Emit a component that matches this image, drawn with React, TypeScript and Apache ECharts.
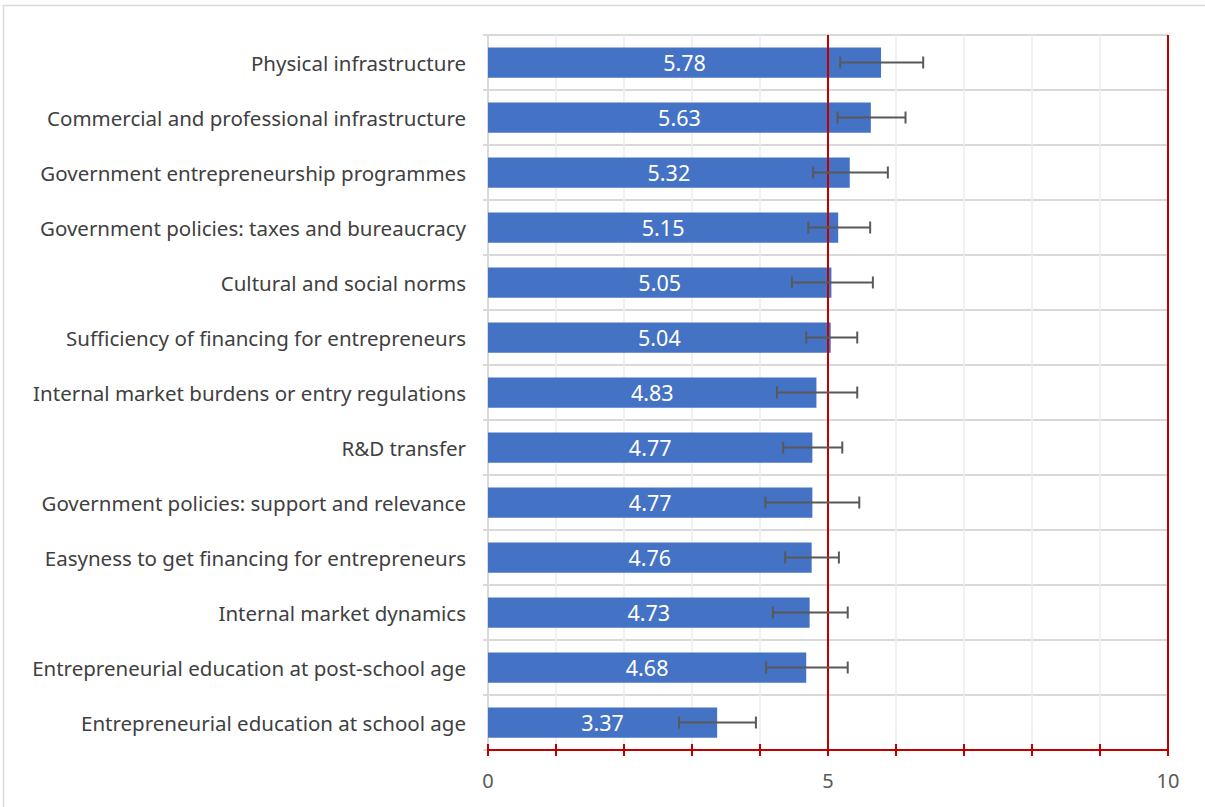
import React, { useEffect, useRef } from "react";
import * as echarts from "echarts";

const categories = [
  "Physical infrastructure",
  "Commercial and professional infrastructure",
  "Government entrepreneurship programmes",
  "Government policies: taxes and bureaucracy",
  "Cultural and social norms",
  "Sufficiency of financing for entrepreneurs",
  "Internal market burdens or entry regulations",
  "R&D transfer",
  "Government policies: support and relevance",
  "Easyness to get financing for entrepreneurs",
  "Internal market dynamics",
  "Entrepreneurial education at post-school age",
  "Entrepreneurial education at school age",
];
const values = [5.78, 5.63, 5.32, 5.15, 5.05, 5.04, 4.83, 4.77, 4.77, 4.76, 4.73, 4.68, 3.37];
const errLow = [5.18, 5.14, 4.78, 4.71, 4.47, 4.68, 4.25, 4.34, 4.08, 4.37, 4.19, 4.09, 2.81];
const errHigh = [6.4, 6.14, 5.88, 5.62, 5.66, 5.43, 5.43, 5.21, 5.46, 5.16, 5.29, 5.29, 3.94];
const axisLabels = [0, 5, 10];

const FONT = "Noto Sans";

export default function App() {
  const ref = useRef<HTMLDivElement>(null);
  useEffect(() => {
    document.body.style.margin = "0";
    const chart = echarts.init(ref.current!, null, { renderer: "svg" });
    const errData = categories.map((_, i) => [i, errLow[i], errHigh[i]]);
    chart.setOption({
      animation: false,
      textStyle: { fontFamily: FONT },
      graphic: [
        {
          type: "rect",
          shape: { x: 3.5, y: 5.5, width: 1210, height: 810 },
          style: { fill: "none", stroke: "#d9d9d9", lineWidth: 1.5 },
          silent: true,
        },
      ],
      grid: { left: 488, right: 37, top: 35, bottom: 57, containLabel: false },
      xAxis: [
        {
          type: "value",
          min: 0,
          max: 10,
          interval: 1,
          axisLine: { show: true, lineStyle: { color: "#c00000", width: 2 } },
          axisTick: { show: true, length: 6, lineStyle: { color: "#c00000", width: 2 } },
          axisLabel: {
            color: "#595959",
            fontSize: 20,
            fontFamily: FONT,
            margin: 20,
            formatter: (v: number) => (axisLabels.includes(v) ? String(v) : ""),
          },
          splitLine: { show: true, lineStyle: { color: "#ececec", width: 1.5 } },
        },
        {
          type: "value",
          position: "bottom",
          min: 0,
          max: 10,
          interval: 1,
          axisLine: { show: false },
          axisTick: { show: true, inside: true, length: 6, lineStyle: { color: "#c00000", width: 2 } },
          axisLabel: { show: false },
          splitLine: { show: false },
        },
      ],
      yAxis: {
        type: "category",
        data: categories,
        inverse: true,
        axisLine: { show: true, lineStyle: { color: "#d9d9d9", width: 2 } },
        axisTick: { show: true, length: 5, lineStyle: { color: "#d9d9d9", width: 2 } },
        axisLabel: { color: "#404040", fontSize: 20.5, fontFamily: FONT, margin: 22 },
        splitLine: { show: true, lineStyle: { color: "#d9d9d9", width: 2 } },
      },
      series: [
        {
          type: "bar",
          data: values,
          barWidth: "55%",
          itemStyle: { color: "#4472c4" },
          label: {
            show: true,
            position: "inside",
            color: "#ffffff",
            fontSize: 21.5,
            fontFamily: FONT,
            formatter: (p: any) => p.value.toFixed(2),
          },
          markLine: {
            silent: true,
            symbol: "none",
            label: { show: false },
            lineStyle: { color: "#c00000", width: 2, type: "solid" },
            data: [{ xAxis: 5 }, { xAxis: 10 }],
          },
          z: 2,
        },
        {
          type: "custom",
          data: errData,
          encode: { y: 0, x: [1, 2] },
          z: 5,
          renderItem: (params: any, api: any) => {
            const idx = api.value(0);
            const lo = api.coord([api.value(1), idx]);
            const hi = api.coord([api.value(2), idx]);
            const h = 6;
            const style = { stroke: "#595959", lineWidth: 2 };
            return {
              type: "group",
              children: [
                { type: "line", shape: { x1: lo[0], y1: lo[1], x2: hi[0], y2: hi[1] }, style },
                { type: "line", shape: { x1: lo[0], y1: lo[1] - h, x2: lo[0], y2: lo[1] + h }, style },
                { type: "line", shape: { x1: hi[0], y1: hi[1] - h, x2: hi[0], y2: hi[1] + h }, style },
              ],
            };
          },
        },
      ],
    });
    return () => chart.dispose();
  }, []);
  return <div ref={ref} style={{ width: 1205, height: 807 }} />;
}
